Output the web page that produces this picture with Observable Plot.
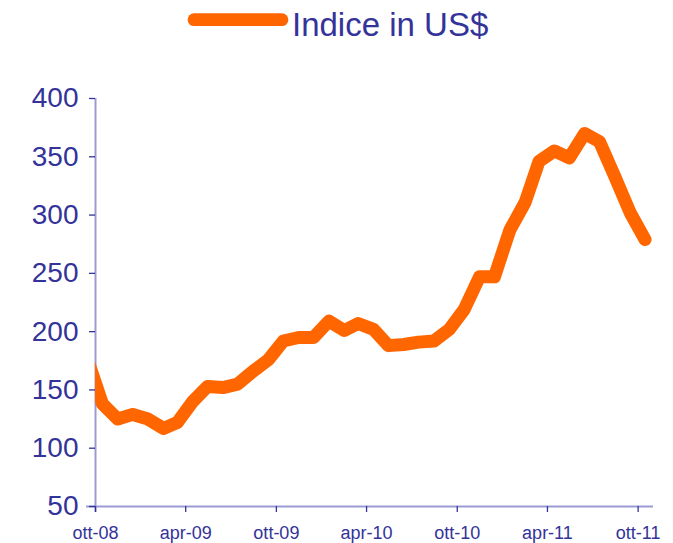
<!DOCTYPE html>
<html>
<head>
<meta charset="utf-8">
<script src="https://cdn.jsdelivr.net/npm/d3@7"></script>
<script src="https://cdn.jsdelivr.net/npm/@observablehq/plot@0.6"></script>
<style>
  html, body { margin: 0; padding: 0; background: #fff; }
  #wrap { position: relative; width: 673px; height: 543px; font-family: "Liberation Sans", Arial, sans-serif; }
  #legend { display: block; }
  #chart svg { display: block; }
</style>
</head>
<body>
<div id="wrap">
  <svg id="legend" width="673" height="50">
    <line x1="194" y1="19.7" x2="282" y2="19.7" stroke="#ff6600" stroke-width="12.7" stroke-linecap="round"></line>
    <text x="292" y="36" font-size="33" fill="#333399" font-family="Liberation Sans, Arial, sans-serif">Indice in US$</text>
  </svg>
  <div id="chart"></div>
</div>
<script>
// Monthly index values (mid-month), Sep 2008 – Oct 2011
const months = [
  "2008-09","2008-10","2008-11","2008-12",
  "2009-01","2009-02","2009-03","2009-04","2009-05","2009-06","2009-07","2009-08","2009-09","2009-10","2009-11","2009-12",
  "2010-01","2010-02","2010-03","2010-04","2010-05","2010-06","2010-07","2010-08","2010-09","2010-10","2010-11","2010-12",
  "2011-01","2011-02","2011-03","2011-04","2011-05","2011-06","2011-07","2011-08","2011-09","2011-10"
];
const indiceUSD = [
  176, 138, 125, 129,
  125, 117, 122, 140, 153, 152, 155, 166, 176, 192, 195, 195,
  209, 201, 207, 202, 188, 189, 191, 192, 202, 219, 247, 247,
  287, 311, 346, 355, 349, 370, 363, 333, 302, 279
];
const tickMonths = ["2008-10","2009-04","2009-10","2010-04","2010-10","2011-04","2011-10"];
const tickLabels = ["ott-08","apr-09","ott-09","apr-10","ott-10","apr-11","ott-11"];
const yTicks = [50, 100, 150, 200, 250, 300, 350, 400];

const toDate = (m, day) => { const [y, mo] = m.split("-").map(Number); return new Date(Date.UTC(y, mo - 1, day)); };
const data = months.map((m, i) => ({date: toDate(m, 15), value: indiceUSD[i]}));
const tickDates = tickMonths.map(m => toDate(m, 1));
const labelOf = new Map(tickDates.map((d, i) => [+d, tickLabels[i]]));

const xStart = toDate("2008-10", 1);
const xEnd = toDate("2011-11", 1);

const axisLine = "#9b9bd3";
const textColor = "#333399";

const chart = Plot.plot({
  width: 673,
  height: 493,
  marginLeft: 95,
  marginRight: 20,
  marginTop: 48,
  marginBottom: 37,
  style: {fontFamily: "Liberation Sans, Arial, sans-serif", background: "#fff"},
  x: {type: "utc", domain: [xStart, xEnd], label: null},
  y: {domain: [50, 400], label: null},
  marks: [
    Plot.ruleY([50], {stroke: axisLine, strokeWidth: 2, insetLeft: -9}),
    Plot.ruleX([xStart], {stroke: axisLine, strokeWidth: 2, insetBottom: -6}),
    Plot.axisY({ticks: yTicks, tickSize: 6, tickPadding: 11, fontSize: 28, color: textColor, strokeWidth: 1.3, tickFormat: d => String(d)}),
    Plot.axisX({ticks: tickDates, tickSize: 6, tickPadding: 14, fontSize: 18, color: textColor, strokeWidth: 1.3, tickFormat: d => labelOf.get(+d)}),
    Plot.line(data, {x: "date", y: "value", stroke: "#ff6600", strokeWidth: 13, strokeLinecap: "round", strokeLinejoin: "round", clip: true})
  ]
});
document.getElementById("chart").appendChild(chart);
</script>
</body>
</html>
